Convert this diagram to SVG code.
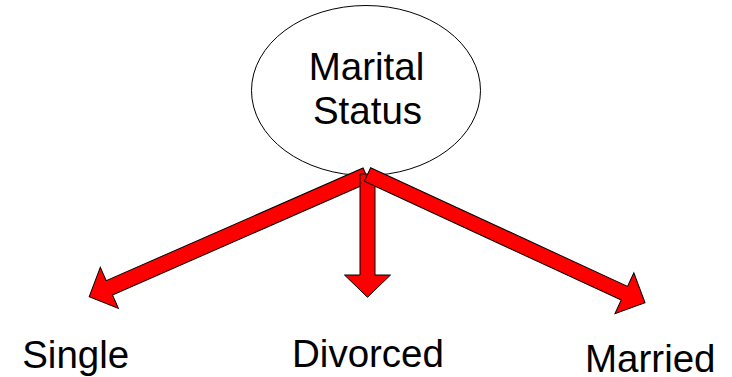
<svg xmlns="http://www.w3.org/2000/svg" width="732" height="377" viewBox="0 0 732 377">
<style>
.lbl{font-family:"Liberation Sans",Arial,sans-serif;font-size:38.5px;fill:#000;text-anchor:middle}
.arrow{fill:#ff0000;stroke:#000;stroke-width:1;stroke-linejoin:miter}
.node{fill:#fff;stroke:#000;stroke-width:1}
</style>
<rect width="732" height="377" fill="#fff"/>
<g id="marital-status">
<ellipse class="node" cx="366" cy="90.5" rx="114.5" ry="85"/>
<text class="lbl" x="366.5" y="80">Marital</text>
<text class="lbl" x="367.5" y="123.5">Status</text>
</g>
<g id="connectors">
<path class="arrow" transform="translate(366.2,175.1) rotate(156.3)" d="M0,-7.8 L280.5,-7.8 L280.5,-22.5 L302.5,0 L280.5,22.5 L280.5,7.8 L0,7.8 Z"/>
<path class="arrow" transform="translate(367.5,174) rotate(90)" d="M0,-7.5 L101,-7.5 L101,-23 L123.3,0 L101,23 L101,7.5 L0,7.5 Z"/>
<path class="arrow" transform="translate(367.5,174.5) rotate(24.8)" d="M0,-7.5 L283,-7.5 L283,-22.5 L305.7,0 L283,22.5 L283,7.5 L0,7.5 Z"/>
</g>
<g id="single"><text class="lbl" x="75.7" y="367.5">Single</text></g>
<g id="divorced"><text class="lbl" x="368" y="366.7">Divorced</text></g>
<g id="married"><text class="lbl" x="650.3" y="371.5">Married</text></g>
</svg>
